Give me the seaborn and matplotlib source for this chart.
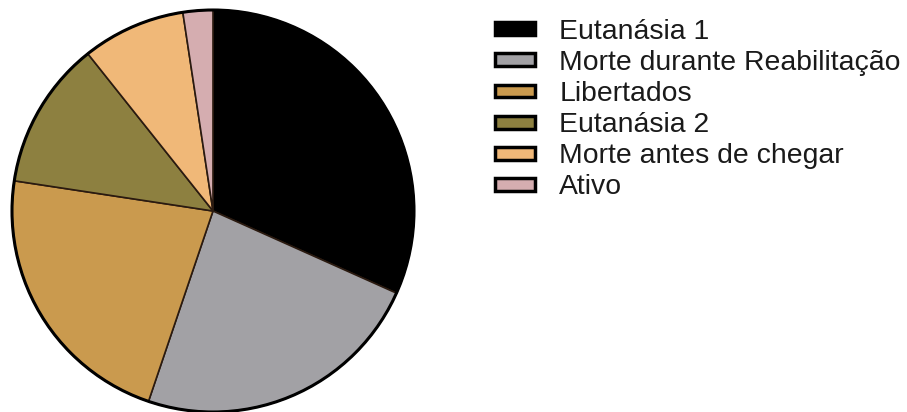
import matplotlib
matplotlib.use("Agg")
import matplotlib.pyplot as plt
import seaborn as sns
from matplotlib.patches import Patch

categories = ["Eutanásia 1", "Morte durante Reabilitação", "Libertados",
              "Eutanásia 2", "Morte antes de chegar", "Ativo"]
values = [31.7, 23.5, 22.2, 11.9, 8.3, 2.4]
colors_hex = ["#000000", "#a2a1a5", "#ca9a4e", "#8d8040", "#f0b878", "#d5adb0"]

sns.set_theme(style="white")
plt.rcParams['font.family'] = ['Liberation Sans', 'DejaVu Sans']
palette = sns.color_palette(colors_hex)

W, H = 907, 412
fig = plt.figure(figsize=(W / 100, H / 100), dpi=100)
fig.patch.set_facecolor("white")

cx, cy, r = 213, 211, 201
ax = fig.add_axes([(cx - r) / W, (H - cy - r) / H, 2 * r / W, 2 * r / H])
wedges, _ = ax.pie(values, colors=palette, startangle=90, counterclock=False,
                   radius=1.0,
                   wedgeprops=dict(edgecolor="#2a1a10", linewidth=1.2))
ax.set_xlim(-1.0, 1.0)
ax.set_ylim(-1.0, 1.0)
ax.set_aspect("equal")
circ = plt.Circle((0, 0), 1.0, fill=False, edgecolor="black", linewidth=2.2)
ax.add_patch(circ)
for w in wedges:
    w.set_clip_on(False)
circ.set_clip_on(False)

handles = [Patch(facecolor=c, edgecolor="black", linewidth=2.5) for c in palette]
leg = fig.legend(handles, categories, loc="upper left",
                 bbox_to_anchor=(495 / W, 1 - 19 / H),
                 frameon=False, fontsize=20.4, borderpad=0, borderaxespad=0,
                 handlelength=1.42, handleheight=0.32, handletextpad=0.85,
                 labelspacing=0.18, labelcolor="#1a1a1a")

fig.savefig("out.png", dpi=100, facecolor="white")
